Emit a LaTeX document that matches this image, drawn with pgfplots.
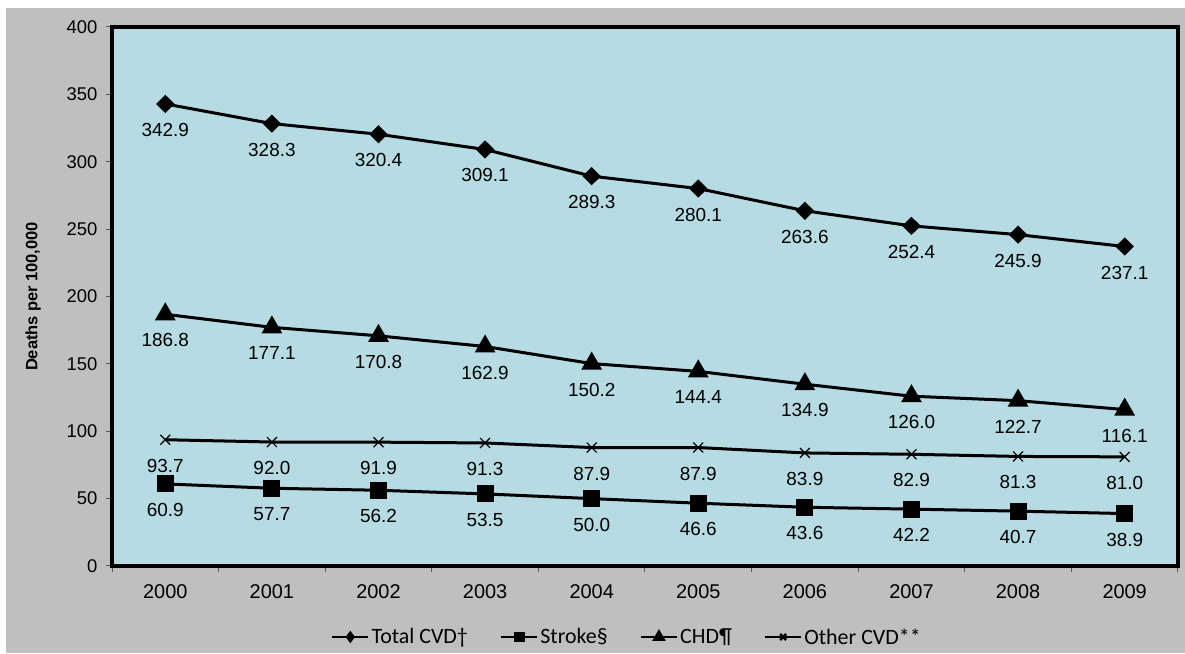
\documentclass[border=0pt]{standalone}
\usepackage{pgfplots}
\pgfplotsset{compat=1.18}
\usepackage{fontspec}
\setmainfont{Liberation Sans}
\newfontfamily\legendfont{Carlito}
\definecolor{panelgray}{HTML}{BFBFBF}
\definecolor{plotblue}{HTML}{B6DBE3}

\begin{document}
\begin{tikzpicture}[x=1bp,y=1bp]
% page and chart panel
\fill[white] (0,0) rectangle (1185,654);
\fill[panelgray] (6,1) rectangle (1185,646);
\begin{axis}[
  at={(112bp,88bp)}, anchor=south west,
  scale only axis, width=1066bp, height=539bp,
  xmin=-0.5, xmax=9.5, ymin=0, ymax=400,
  axis background/.style={fill=plotblue},
  axis line style={line width=3.5bp},
  /pgf/number format/assume math mode=true,
  tick align=outside,
  xtick pos=bottom, ytick pos=left,
  xtick={0,...,9},
  xticklabels={2000,2001,2002,2003,2004,2005,2006,2007,2008,2009},
  major x tick style={draw=none},
  minor xtick={-0.5,0.5,...,9.5},
  ytick={0,50,...,400},
  major tick length=6bp, minor tick length=6bp,
  tick style={black!65, line width=1bp},
  y tick label style={font=\fontsize{18.5}{20}\selectfont, xshift=-5bp},
  x tick label style={font=\fontsize{20}{22}\selectfont, yshift=-9bp},
  ylabel={Deaths per 100,000},
  ylabel style={font=\fontsize{16.5}{18}\selectfont\bfseries,
    at={(rel axis cs:-0.074,0.5)}, anchor=center},
  nodes near coords={\pgfmathprintnumber[fixed,fixed zerofill,precision=1]{\pgfplotspointmeta}},
  every node near coord/.append style={font=\fontsize{19}{20}\selectfont,
    anchor=center, yshift=-26bp, text=black},
  legend image code/.code={
    \draw[mark repeat=2, mark phase=2, #1, line width=2.5bp, mark options={scale=0.6, solid}]
      plot coordinates {(0bp,0bp) (18bp,0bp) (36bp,0bp)};},
  legend columns=4,
  legend style={at={(0.483,-0.1317)}, anchor=center, draw=none, fill=none,
    font=\legendfont\fontsize{22}{24}\selectfont,
    /tikz/every even column/.append style={column sep=30bp}},
]
\addplot[black, line width=3bp, mark=diamond*, mark size=7bp,
         mark options={xscale=1.35}]
  coordinates {(0,342.9) (1,328.3) (2,320.4) (3,309.1) (4,289.3)
               (5,280.1) (6,263.6) (7,252.4) (8,245.9) (9,237.1)};
\addlegendentry{Total CVD†}
\addplot[black, line width=3bp, mark=square*, mark size=7bp]
  coordinates {(0,60.9) (1,57.7) (2,56.2) (3,53.5) (4,50.0)
               (5,46.6) (6,43.6) (7,42.2) (8,40.7) (9,38.9)};
\addlegendentry{Stroke§}
\addplot[black, line width=3bp, mark=triangle*, mark size=9bp]
  coordinates {(0,186.8) (1,177.1) (2,170.8) (3,162.9) (4,150.2)
               (5,144.4) (6,134.9) (7,126.0) (8,122.7) (9,116.1)};
\addlegendentry{CHD¶}
\addplot[black, line width=3bp, mark=x, mark size=7bp, mark options={line width=1.2bp}]
  coordinates {(0,93.7) (1,92.0) (2,91.9) (3,91.3) (4,87.9)
               (5,87.9) (6,83.9) (7,82.9) (8,81.3) (9,81.0)};
\addlegendentry{Other CVD**}
\end{axis}
\end{tikzpicture}
\end{document}
